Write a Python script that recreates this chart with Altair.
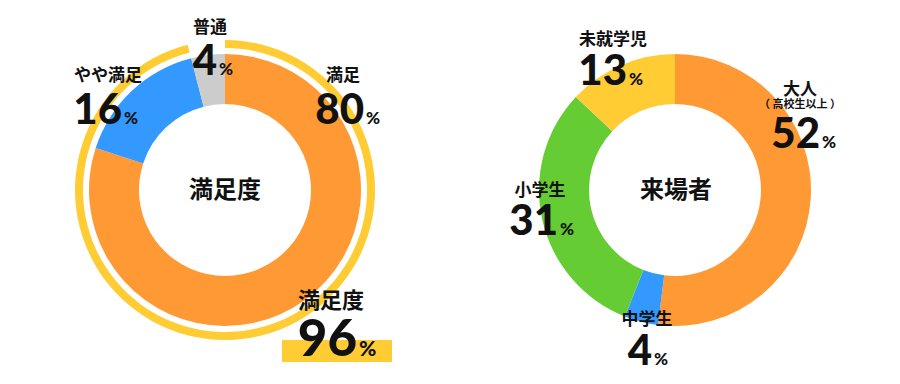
import altair as alt
import pandas as pd

# --- data ---
sat_title = "満足度"
sat_labels = ["満足", "やや満足", "普通"]
sat_values = [80, 16, 4]
sat_colors = ["#FF9933", "#3399FF", "#CCCCCC"]
sat_total_value = 96

vis_title = "来場者"
vis_labels = ["大人", "中学生", "小学生", "未就学児"]
vis_sublabel = "（ 高校生以上 ）"
vis_values = [52, 4, 31, 13]
vis_colors = ["#FF9933", "#3399FF", "#66CC33", "#FFCC33"]

ring_color = "#FFCC33"

JP = "Noto Sans CJK JP"
NUM = "Lato"

LC = (217, 182)  # left donut centre (plot coords)
RC = (667, 182)  # right donut centre


def donut(labels, values, colors, cx, cy):
    df = pd.DataFrame({"label": labels, "value": values, "color": colors,
                       "idx": list(range(len(labels)))})
    return alt.Chart(df).mark_arc(outerRadius=136, innerRadius=86).encode(
        theta=alt.Theta("value:Q", stack=True, scale=alt.Scale(domain=[0, 100])),
        order=alt.Order("idx:Q"),
        color=alt.Color("color:N", scale=None),
        x=alt.value(cx), y=alt.value(cy),
    )


def ring(value, cx, cy):
    df = pd.DataFrame({"value": [value]})
    return alt.Chart(df).mark_arc(outerRadius=150, innerRadius=142, color=ring_color).encode(
        theta=alt.Theta("value:Q", stack=True, scale=alt.Scale(domain=[0, 100])),
        x=alt.value(cx), y=alt.value(cy),
    )


def txt(text, x, y, size, align="center", baseline="middle", font=JP, weight="bold"):
    df = pd.DataFrame({"t": [text]})
    return alt.Chart(df).mark_text(
        font=font, fontSize=size, fontWeight=weight, align=align,
        baseline=baseline, color="#111111"
    ).encode(x=alt.value(x), y=alt.value(y), text="t:N")


def pct(value, xr, yb, size=42, psize=17):
    return [
        txt(str(value), xr, yb, size, align="right", baseline="alphabetic", font=NUM, weight=900),
        txt("%", xr + 2, yb, psize, align="left", baseline="alphabetic", font=NUM, weight=900),
    ]


highlight = alt.Chart(pd.DataFrame({"v": [sat_total_value]})).mark_rect(color=ring_color).encode(
    x=alt.value(274), x2=alt.value(384), y=alt.value(332), y2=alt.value(354)
)

layers = [
    ring(sat_total_value, *LC),
    donut(sat_labels, sat_values, sat_colors, *LC),
    donut(vis_labels, vis_values, vis_colors, *RC),
    highlight,
    # left donut labels
    txt(sat_title, LC[0], LC[1] + 1, 24),
    txt(sat_labels[0], 335, 68, 17),
    *pct(sat_values[0], 356, 116),
    txt(sat_labels[1], 100, 68, 17),
    *pct(sat_values[1], 114, 116),
    txt(sat_labels[2], 202, 20, 17),
    *pct(sat_values[2], 209, 67),
    txt(sat_title, 323, 293, 22),
    *pct(sat_total_value, 349, 348, size=51, psize=21),
    # right donut labels
    txt(vis_title, RC[0] + 1, RC[1] + 1, 24),
    txt(vis_labels[0], 792, 82, 17),
    txt(vis_sublabel, 792, 97, 11),
    *pct(vis_values[0], 812, 140),
    txt(vis_labels[1], 639, 312, 17),
    *pct(vis_values[1], 644, 357),
    txt(vis_labels[2], 532, 183, 17),
    *pct(vis_values[2], 550, 227),
    txt(vis_labels[3], 605, 32, 17),
    *pct(vis_values[3], 619, 77),
]

chart = alt.layer(*layers).resolve_scale(theta="independent").properties(
    width=884, height=368, autosize=alt.AutoSizeParams(type="none"), padding=0
).configure_view(stroke=None)

chart.save("out.html", embed_options={"renderer": "svg", "actions": False})
